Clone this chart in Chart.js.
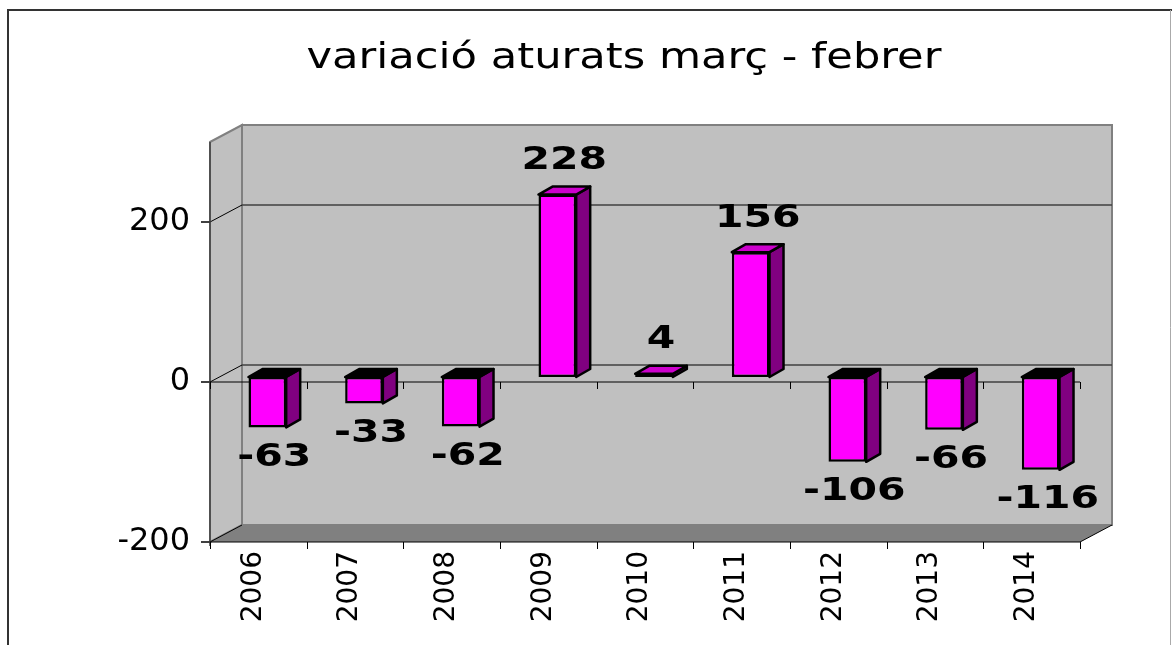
<!DOCTYPE html>
<html>
<head>
<meta charset="utf-8">
<script src="https://cdn.jsdelivr.net/npm/chart.js@4/dist/chart.umd.min.js"></script>
<style>
  html, body { margin: 0; padding: 0; background: #fff; }
  #wrap { width: 1172px; height: 645px; }
</style>
</head>
<body>
<div id="wrap"><canvas id="myChart" width="1172" height="645"></canvas></div>
<script>
// chart data
const chartTitle = "variació aturats març - febrer";
const years = ["2006", "2007", "2008", "2009", "2010", "2011", "2012", "2013", "2014"];
const variation = [-63, -33, -62, 228, 4, 156, -106, -66, -116];
const yTicks = [-200, 0, 200];
const yMin = -200;
const yMax = 300;

// fake 3d offsets, relative to the plane where the bar fronts sit
const FRONT = { dx: -9, dy: 5 };
const BACK = { dx: 23, dy: -12 };
const BAR_DEPTH = { dx: 14, dy: -8 };
const FONT = "'DejaVu Sans', Verdana, sans-serif";

const poly = (ctx, pts, fill, stroke, lw) => {
  ctx.beginPath();
  ctx.moveTo(pts[0][0], pts[0][1]);
  for (let i = 1; i < pts.length; i++) ctx.lineTo(pts[i][0], pts[i][1]);
  ctx.closePath();
  if (fill) { ctx.fillStyle = fill; ctx.fill(); }
  if (stroke) { ctx.strokeStyle = stroke; ctx.lineWidth = lw || 1; ctx.stroke(); }
};
const line = (ctx, x1, y1, x2, y2, color, lw) => {
  ctx.beginPath();
  ctx.moveTo(x1, y1);
  ctx.lineTo(x2, y2);
  ctx.strokeStyle = color;
  ctx.lineWidth = lw || 1;
  ctx.stroke();
};

const Frame = {
  id: "frame",
  beforeDraw: (chart) => {
    const ctx = chart.ctx;
    ctx.save();
    line(ctx, 8, 10, 1172, 10, "#333", 2);
    line(ctx, 8, 9, 8, 645, "#333", 2);
    line(ctx, 1170.5, 10, 1170.5, 645, "#aaa", 1);
    // title, stretched a bit sideways like the original
    ctx.font = "36px " + FONT;
    ctx.fillStyle = "#000";
    ctx.textAlign = "center";
    ctx.textBaseline = "alphabetic";
    ctx.translate(624, 68);
    ctx.scale(1.2, 1);
    ctx.fillText(chartTitle, 0, 0);
    ctx.restore();
  },
};

const Walls = {
  id: "walls",
  beforeDatasetsDraw: (chart) => {
    const ctx = chart.ctx;
    const xs = chart.scales.x;
    const ys = chart.scales.y;
    const L = chart.chartArea.left;
    const R = chart.chartArea.right;
    const top = ys.getPixelForValue(yMax);
    const bot = ys.getPixelForValue(yMin);
    ctx.save();
    // back wall
    poly(ctx, [[L + BACK.dx, top + BACK.dy], [R + BACK.dx, top + BACK.dy],
      [R + BACK.dx, bot + BACK.dy], [L + BACK.dx, bot + BACK.dy]], "#C0C0C0", "#808080", 2);
    // side wall
    poly(ctx, [[L + FRONT.dx, top + FRONT.dy], [L + BACK.dx, top + BACK.dy],
      [L + BACK.dx, bot + BACK.dy], [L + FRONT.dx, bot + FRONT.dy]], "#C0C0C0", "#808080", 2);
    // floor
    poly(ctx, [[L + FRONT.dx, bot + FRONT.dy], [L + BACK.dx, bot + BACK.dy],
      [R + BACK.dx, bot + BACK.dy], [R + FRONT.dx, bot + FRONT.dy]], "#808080", null);
    line(ctx, R + FRONT.dx, bot + FRONT.dy, R + BACK.dx, bot + BACK.dy, "#000", 1);
    line(ctx, L + BACK.dx, bot + BACK.dy, L + BACK.dx, top + BACK.dy, "#808080", 2);

    // gridlines on back wall + side wall
    yTicks.forEach((v) => {
      const y = ys.getPixelForValue(v);
      if (v !== yMin) line(ctx, L + BACK.dx, y + BACK.dy, R + BACK.dx, y + BACK.dy, "#404040", 1.5);
      line(ctx, L + FRONT.dx, y + FRONT.dy, L + BACK.dx, y + BACK.dy, "#000", 1);
      line(ctx, L + FRONT.dx - 9, y + FRONT.dy, L + FRONT.dx, y + FRONT.dy, "#000", 1.5);
    });
    // front value axis
    line(ctx, L + FRONT.dx, top + FRONT.dy, L + FRONT.dx, bot + FRONT.dy + 4, "#404040", 1.5);

    // front category lines at 0 and at the floor, with tick marks
    const step = xs.getPixelForValue(1) - xs.getPixelForValue(0);
    [0, yMin].forEach((v) => {
      const y = ys.getPixelForValue(v) + FRONT.dy;
      line(ctx, L + FRONT.dx, y, R + FRONT.dx, y, "#000", 1.2);
      for (let i = 0; i <= years.length; i++) {
        const x = Math.round(xs.getPixelForValue(i) - step / 2 + FRONT.dx) + 0.5;
        line(ctx, x, y, x, y + 7, "#000", 1);
      }
    });
    ctx.restore();
  },
  afterDatasetsDraw: (chart) => {
    const ctx = chart.ctx;
    const meta = chart.getDatasetMeta(0);
    ctx.save();
    ctx.lineJoin = "round";
    meta.data.forEach((bar, i) => {
      const v = variation[i];
      const half = bar.width / 2;
      const l = bar.x - half;
      const r = bar.x + half;
      const hi = Math.min(bar.y, bar.base);
      const lo = Math.max(bar.y, bar.base);
      const d = BAR_DEPTH;
      // side face
      poly(ctx, [[r, hi], [r + d.dx, hi + d.dy], [r + d.dx, lo + d.dy], [r, lo]], "#800080", "#000", 2.5);
      // top face
      poly(ctx, [[l, hi], [l + d.dx, hi + d.dy], [r + d.dx, hi + d.dy], [r, hi]],
        v >= 0 ? "#CC00CC" : "#000", "#000", 2.5);

      // value label
      ctx.save();
      ctx.font = "bold 32px " + FONT;
      ctx.fillStyle = "#000";
      ctx.textAlign = "center";
      ctx.textBaseline = "middle";
      const ly = v >= 0 ? bar.y - 34 : bar.y + 30;
      ctx.translate(bar.x + 7, ly);
      ctx.scale(1.28, 1);
      ctx.fillText(String(v), 0, 0);
      ctx.restore();
    });
    ctx.restore();
  },
};

const config = {
  type: "bar",
  data: {
    labels: years,
    datasets: [
      {
        label: "variació",
        data: variation,
        backgroundColor: "#FF00FF",
        borderColor: "#000",
        borderWidth: 2.5,
        borderSkipped: false,
        categoryPercentage: 1,
        barPercentage: 0.39,
      },
    ],
  },
  options: {
    responsive: false,
    devicePixelRatio: 1,
    animation: false,
    layout: { padding: { left: 0, top: 137, right: 83, bottom: 8 } },
    plugins: {
      legend: { display: false },
      title: { display: false },
      tooltip: { enabled: false },
    },
    scales: {
      x: {
        grid: { display: false, drawTicks: false, tickLength: 0 },
        border: { display: false },
        ticks: {
          autoSkip: false,
          minRotation: 90,
          maxRotation: 90,
          padding: 14,
          labelOffset: -14,
          color: "#000",
          font: { family: FONT, size: 28 },
        },
        afterFit: (s) => { s.height = 100; },
      },
      y: {
        min: yMin,
        max: yMax,
        afterBuildTicks: (s) => { s.ticks = yTicks.map((v) => ({ value: v })); },
        grid: { display: false, drawTicks: false, tickLength: 0 },
        border: { display: false },
        ticks: {
          padding: 29,
          labelOffset: 5,
          color: "#000",
          font: { family: FONT, size: 32 },
        },
        afterFit: (s) => { s.width = 219; },
      },
    },
  },
  plugins: [Frame, Walls],
};

new Chart(document.getElementById("myChart").getContext("2d"), config);
</script>
</body>
</html>
